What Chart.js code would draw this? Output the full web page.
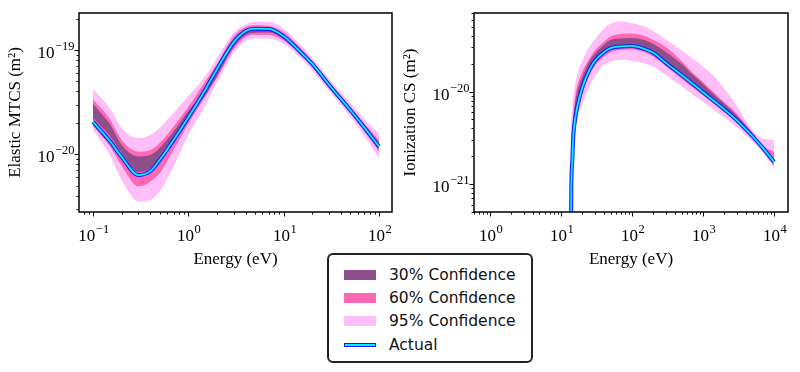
<!DOCTYPE html>
<html>
<head>
<meta charset="utf-8">
<script src="https://cdn.jsdelivr.net/npm/chart.js@4.4.1/dist/chart.umd.min.js"></script>
<style>
  body { margin: 0; background: #fff; width: 800px; height: 372px; position: relative; overflow: hidden; }
  .box { position: absolute; top: 0; width: 400px; height: 270px; }
  #legend { position: absolute; left: 327px; top: 253px; width: 202px; height: 106px;
    border: 2px solid #222; border-radius: 6px; background: #fff;
    font-family: 'DejaVu Sans', sans-serif; font-size: 15.5px; color: #111; }
  .row { position: absolute; left: 0; height: 20px; line-height: 20px; }
  .row span { position: absolute; left: 15px; top: 5px; width: 32px; height: 10px; }
  .row b { position: absolute; left: 60px; font-weight: normal; white-space: nowrap; }
</style>
</head>
<body>
<div class="box" style="left:0"><canvas id="mtcs"></canvas></div>
<div class="box" style="left:400px"><canvas id="ion"></canvas></div>
<div id="legend"></div>
<script>
// elastic momentum transfer cross section
const mtcsEnergy = [0.1, 0.15, 0.2, 0.3, 0.4, 0.5, 0.7, 1, 1.5, 2, 3, 4, 5, 7, 10, 15, 20, 30, 50, 70, 100];
const mtcsActual = [2.05e-20, 1.34e-20, 9.42e-21, 6.33e-21, 6.92e-21, 8.82e-21, 1.37e-20, 2.26e-20, 4.14e-20, 6.58e-20, 1.19e-19, 1.52e-19, 1.60e-19, 1.59e-19, 1.35e-19, 9.57e-20, 7.34e-20, 4.62e-20, 2.66e-20, 1.81e-20, 1.19e-20];
const mtcsHi95 = [4.23e-20, 2.78e-20, 1.79e-20, 1.43e-20, 1.53e-20, 1.79e-20, 2.49e-20, 3.62e-20, 5.57e-20, 8.38e-20, 1.46e-19, 1.75e-19, 1.86e-19, 1.86e-19, 1.59e-19, 1.12e-19, 8.38e-20, 5.27e-20, 3.10e-20, 2.18e-20, 1.58e-20];
const mtcsLo95 = [1.71e-20, 9.85e-21, 5.67e-21, 3.53e-21, 3.65e-21, 4.40e-21, 7.64e-21, 1.53e-20, 2.94e-20, 4.83e-20, 9.36e-20, 1.22e-19, 1.29e-19, 1.28e-19, 1.14e-19, 8.38e-20, 6.36e-20, 4.05e-20, 2.28e-20, 1.51e-20, 9.22e-21];
const mtcsHi60 = [3.35e-20, 2.18e-20, 1.37e-20, 1.06e-20, 1.10e-20, 1.28e-20, 1.85e-20, 2.85e-20, 4.99e-20, 7.34e-20, 1.36e-19, 1.66e-19, 1.72e-19, 1.70e-19, 1.49e-19, 1.05e-19, 7.84e-20, 4.94e-20, 2.84e-20, 1.97e-20, 1.37e-20];
const mtcsLo60 = [1.87e-20, 1.20e-20, 7.72e-21, 4.91e-21, 5.48e-21, 6.62e-21, 1.10e-20, 1.95e-20, 3.54e-20, 5.39e-20, 1.02e-19, 1.33e-19, 1.39e-19, 1.39e-19, 1.23e-19, 8.96e-20, 6.80e-20, 4.32e-20, 2.49e-20, 1.67e-20, 1.06e-20];
const mtcsHi30 = [3.04e-20, 1.95e-20, 1.23e-20, 9.53e-21, 9.85e-21, 1.15e-20, 1.65e-20, 2.60e-20, 4.18e-20, 6.43e-20, 1.19e-19, 1.52e-19, 1.57e-19, 1.59e-19, 1.39e-19, 1.00e-19, 7.51e-20, 4.72e-20, 2.72e-20, 1.87e-20, 1.28e-20];
const mtcsLo30 = [2.23e-20, 1.50e-20, 1.03e-20, 6.77e-21, 7.39e-21, 9.42e-21, 1.43e-20, 2.28e-20, 3.66e-20, 5.63e-20, 1.07e-19, 1.39e-19, 1.46e-19, 1.47e-19, 1.28e-19, 9.16e-20, 6.95e-20, 4.42e-20, 2.54e-20, 1.73e-20, 1.12e-20];

// ionization cross section
const izEnergy = [13.6, 14, 14.5, 15, 16, 17, 20, 25, 30, 40, 50, 70, 100, 150, 200, 300, 500, 700, 1000, 1500, 2000, 3000, 5000, 7000, 10000];
const izActual = [1e-23, 7.69e-22, 1.83e-21, 3.41e-21, 5.20e-21, 6.84e-21, 1.10e-20, 1.69e-20, 2.14e-20, 2.65e-20, 2.95e-20, 3.07e-20, 3.11e-20, 2.89e-20, 2.62e-20, 2.04e-20, 1.51e-20, 1.23e-20, 9.85e-21, 7.67e-21, 6.43e-21, 4.88e-21, 3.27e-21, 2.45e-21, 1.74e-21];
const izHi95 = [1e-23, 3.86e-21, 6.35e-21, 8.77e-21, 1.24e-20, 1.51e-20, 2.14e-20, 3.03e-20, 3.66e-20, 4.75e-20, 5.44e-20, 5.72e-20, 5.51e-20, 5.05e-20, 4.52e-20, 3.66e-20, 2.78e-20, 2.31e-20, 1.87e-20, 1.41e-20, 1.07e-20, 7.01e-21, 3.77e-21, 3.09e-21, 3.01e-21];
const izLo95 = [1e-23, 4.68e-22, 9.86e-22, 1.83e-21, 3.86e-21, 5.20e-21, 7.19e-21, 1.12e-20, 1.44e-20, 1.94e-20, 2.09e-20, 2.20e-20, 2.14e-20, 2.01e-20, 1.87e-20, 1.51e-20, 1.14e-20, 9.44e-21, 7.74e-21, 6.12e-21, 5.20e-21, 4.11e-21, 2.87e-21, 2.18e-21, 1.47e-21];
const izHi60 = [1e-23, 1.83e-21, 3.86e-21, 6.04e-21, 9.21e-21, 1.15e-20, 1.63e-20, 2.25e-20, 2.78e-20, 3.44e-20, 3.94e-20, 4.19e-20, 4.24e-20, 3.99e-20, 3.61e-20, 3.03e-20, 2.14e-20, 1.63e-20, 1.27e-20, 9.44e-21, 7.65e-21, 5.75e-21, 3.58e-21, 2.60e-21, 2.24e-21];
const izLo60 = [1e-23, 6.00e-22, 1.43e-21, 2.66e-21, 4.48e-21, 6.04e-21, 9.68e-21, 1.48e-20, 1.89e-20, 2.37e-20, 2.65e-20, 2.82e-20, 2.85e-20, 2.65e-20, 2.40e-20, 1.89e-20, 1.37e-20, 1.12e-20, 9.10e-21, 7.10e-21, 5.97e-21, 4.60e-21, 3.09e-21, 2.29e-21, 1.58e-21];
const izHi30 = [1e-23, 1.26e-21, 2.66e-21, 4.71e-21, 7.74e-21, 9.93e-21, 1.44e-20, 2.09e-20, 2.55e-20, 3.19e-20, 3.61e-20, 3.75e-20, 3.80e-20, 3.61e-20, 3.27e-20, 2.68e-20, 1.99e-20, 1.55e-20, 1.21e-20, 8.99e-21, 7.37e-21, 5.47e-21, 3.50e-21, 2.53e-21, 1.83e-21];
const izLo30 = [1e-23, 8.07e-22, 1.93e-21, 3.58e-21, 5.47e-21, 7.19e-21, 1.14e-20, 1.76e-20, 2.23e-20, 2.75e-20, 3.03e-20, 3.19e-20, 3.23e-20, 3.00e-20, 2.71e-20, 2.12e-20, 1.57e-20, 1.27e-20, 1.02e-20, 7.94e-21, 6.59e-21, 4.95e-21, 3.24e-21, 2.41e-21, 1.70e-21];

const legendLabels = ['30% Confidence', '60% Confidence', '95% Confidence', 'Actual'];
const c30 = '#8d4e89', c60 = '#ff69b4', c95 = '#ffbef8', cLine = '#00f0ff', cEdge = '#1a1aff';

const pts = (xs, ys) => xs.map((x, i) => ({x: x, y: ys[i]}));

// box around the plot, matplotlib style major/minor ticks and 10^n labels
const frameTicks = {
  id: 'frameTicks',
  afterDraw(chart) {
    const {ctx, chartArea: a, scales} = chart;
    ctx.save();
    ctx.strokeStyle = '#000';
    ctx.fillStyle = '#000';
    ctx.lineWidth = 1;
    ['x', 'y'].forEach(id => {
      const s = scales[id];
      for (let n = Math.floor(Math.log10(s.min)); n <= Math.ceil(Math.log10(s.max)); n++) {
        for (let k = 1; k <= 9; k++) {
          const v = k * Math.pow(10, n);
          if (v < s.min || v > s.max) continue;
          const len = k === 1 ? 4.5 : 2.5;
          const p = Math.round(s.getPixelForValue(v)) + 0.5;
          ctx.beginPath();
          if (id === 'x') { ctx.moveTo(p, a.bottom); ctx.lineTo(p, a.bottom + len); }
          else { ctx.moveTo(a.left, p); ctx.lineTo(a.left - len, p); }
          ctx.stroke();
          if (k !== 1) continue;
          const exp = String(n).replace('-', '\u2212');
          ctx.font = '17px "Liberation Serif"';
          const wb = ctx.measureText('10').width;
          ctx.font = '12.5px "Liberation Serif"';
          const we = ctx.measureText(exp).width;
          let x0, base;
          if (id === 'x') { x0 = p - (wb + we) / 2; base = a.bottom + 28.5; }
          else { x0 = a.left - 5 - wb - we; base = p + 7.5; }
          ctx.textAlign = 'left';
          ctx.textBaseline = 'alphabetic';
          ctx.font = '17px "Liberation Serif"';
          ctx.fillText('10', x0, base);
          ctx.font = '12.5px "Liberation Serif"';
          ctx.fillText(exp, x0 + wb + 0.5, base - 8);
        }
      }
    });
    ctx.lineWidth = 1.5;
    ctx.strokeRect(a.left, a.top, a.right - a.left, a.bottom - a.top);
    ctx.restore();
  }
};

function makeChart(id, energy, s, xr, yr, yTitle, yWidth, yTitlePad, padRight) {
  const band = (hi, lo, color) => [
    {data: pts(energy, hi), fill: '+1', backgroundColor: color, borderColor: 'transparent', borderWidth: 0},
    {data: pts(energy, lo), fill: false, borderColor: 'transparent', borderWidth: 0}
  ];
  const datasets = [
    {data: pts(energy, s.actual), borderColor: cLine, borderWidth: 1.8, fill: false},
    {data: pts(energy, s.actual), borderColor: cEdge, borderWidth: 4, fill: false},
    ...band(s.hi30, s.lo30, c30),
    ...band(s.hi60, s.lo60, c60),
    ...band(s.hi95, s.lo95, c95)
  ];
  datasets.forEach(d => { d.pointRadius = 0; d.cubicInterpolationMode = 'monotone'; });
  return new Chart(document.getElementById(id), {
    type: 'line',
    data: {datasets: datasets},
    options: {
      responsive: true,
      maintainAspectRatio: false,
      animation: false,
      layout: {padding: {top: 13, right: padRight, left: 0, bottom: 0}},
      plugins: {legend: {display: false}, tooltip: {enabled: false}},
      scales: {
        x: {
          type: 'logarithmic', min: xr[0], max: xr[1],
          grid: {display: false, drawTicks: false}, border: {display: false},
          ticks: {display: false},
          title: {display: true, text: 'Energy (eV)', color: '#000', padding: {top: 0, bottom: 0},
            font: {family: 'Liberation Serif', size: 17}},
          afterFit: sc => { sc.height = 58; }
        },
        y: {
          type: 'logarithmic', min: yr[0], max: yr[1],
          grid: {display: false, drawTicks: false}, border: {display: false},
          ticks: {display: false},
          title: {display: true, text: yTitle, color: '#000', padding: {top: yTitlePad, bottom: 0},
            font: {family: 'Liberation Serif', size: 17}},
          afterFit: sc => { sc.width = yWidth; }
        }
      }
    },
    plugins: [frameTicks]
  });
}

makeChart('mtcs', mtcsEnergy,
  {actual: mtcsActual, hi95: mtcsHi95, lo95: mtcsLo95, hi60: mtcsHi60, lo60: mtcsLo60, hi30: mtcsHi30, lo30: mtcsLo30},
  [0.0713, 137], [2.8e-21, 2.26e-19], 'Elastic MTCS (m\u00b2)', 79, 5, 8);
makeChart('ion', izEnergy,
  {actual: izActual, hi95: izHi95, lo95: izLo95, hi60: izHi60, lo60: izLo60, hi30: izHi30, lo30: izLo30},
  [0.63, 15700], [5.02e-22, 7.06e-20], 'Ionization CS (m\u00b2)', 74, 0, 12);

// shared legend under both panels
const swatches = [
  'background:' + c30, 'background:' + c60, 'background:' + c95,
  'top:8px;height:2px;background:' + cLine + ';border:1px solid ' + cEdge + ';width:30px'
];
const legend = document.getElementById('legend');
legendLabels.forEach((txt, i) => {
  const row = document.createElement('div');
  row.className = 'row';
  row.style.top = (10 + i * 23.2) + 'px';
  row.innerHTML = '<span style="' + swatches[i] + '"></span><b>' + txt + '</b>';
  legend.appendChild(row);
});
</script>
</body>
</html>
